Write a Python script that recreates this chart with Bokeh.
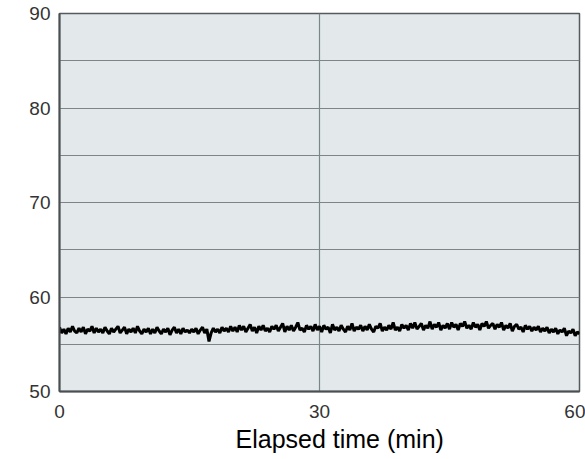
from bokeh.plotting import figure
from bokeh.models import FixedTicker, Range1d, Title
from bokeh.embed import file_html
from bokeh.resources import INLINE

x_ticks = [0, 30, 60]
y_ticks = [50, 60, 70, 80, 90]
y_grid = [50, 55, 60, 65, 70, 75, 80, 85, 90]
x_label = "Elapsed time (min)"

values = [
    56.8, 56.2, 56.6, 56.1, 56.7, 56.3, 56.9, 56.4, 56.2, 56.7, 56.3, 56.8, 56.1, 56.6, 56.4, 56.9, 56.2, 56.7, 56.3, 56.6,
    56.2, 56.8, 56.4, 56.1, 56.7, 56.3, 56.6, 56.9, 56.2, 56.5, 56.8, 56.1, 56.6, 56.3, 56.7, 56.2, 56.9, 56.4, 56.1, 56.6,
    56.3, 56.7, 56.1, 56.6, 56.2, 56.8, 56.4, 56.1, 56.6, 56.3, 56.7, 56.0, 56.5, 56.8, 56.2, 56.6, 56.1, 56.7, 56.3, 56.5,
    56.2, 56.6, 56.3, 56.7, 56.1, 56.5, 56.8, 56.2, 56.6, 55.3, 56.2, 56.7, 56.3, 56.6, 56.2, 56.8, 56.4, 56.7, 56.3, 56.9,
    56.4, 56.8, 56.3, 57.0, 56.5, 56.9, 56.3, 56.7, 57.1, 56.4, 56.8, 56.2, 56.9, 56.5, 57.0, 56.4, 56.7, 56.3, 56.9, 56.6,
    57.0, 56.4, 56.8, 57.2, 56.3, 56.9, 56.5, 57.0, 56.4, 56.8, 57.3, 56.5, 56.7, 56.3, 57.0, 56.6, 56.9, 56.4, 57.1, 56.5,
    56.9, 56.3, 57.0, 56.6, 56.8, 56.2, 57.1, 56.5, 56.8, 56.4, 57.0, 56.6, 56.3, 56.9, 56.5, 57.2, 56.4, 56.8, 56.6, 57.0,
    56.4, 56.9, 56.5, 57.1, 56.6, 56.3, 56.9, 56.7, 57.2, 56.4, 56.8, 56.5, 57.0, 56.6, 57.3, 56.5, 56.8, 56.4, 57.1, 56.7,
    57.0, 56.5, 57.2, 56.7, 57.3, 56.6, 56.9, 57.2, 56.5, 57.0, 56.7, 57.4, 56.6, 57.1, 56.8, 57.3, 56.5, 57.0, 56.7, 57.2,
    56.6, 57.3, 56.8, 57.1, 56.5, 57.2, 56.9, 57.4, 56.7, 57.0, 56.6, 57.3, 56.8, 57.1, 56.5, 57.2, 56.9, 57.4, 56.7, 57.0,
    57.2, 56.6, 57.1, 56.8, 57.3, 56.5, 57.0, 56.7, 57.2, 56.4, 56.9, 57.1, 56.6, 56.8, 56.3, 57.0, 56.6, 56.9, 56.4, 56.8,
    56.5, 56.9, 56.3, 56.7, 56.4, 56.8, 56.2, 56.6, 56.3, 56.7, 56.1, 56.5, 56.3, 56.7, 55.9, 56.4, 56.2, 56.6, 55.9, 56.3,
    56.1,
]
times = [i / 4 for i in range(len(values))]

p = figure(width=585, height=459, output_backend="svg", toolbar_location=None,
           x_range=Range1d(0, 60), y_range=Range1d(50, 90),
           min_border_left=59, min_border_right=6, min_border_top=13, min_border_bottom=68)

p.background_fill_color = "#e3e9ea"
p.border_fill_color = "white"
p.outline_line_color = "#555a5c"
p.outline_line_width = 1.5

p.xaxis.ticker = FixedTicker(ticks=x_ticks)
p.yaxis.ticker = FixedTicker(ticks=y_ticks)
p.xgrid.ticker = FixedTicker(ticks=[30])
p.ygrid.ticker = FixedTicker(ticks=y_grid)
p.grid.grid_line_color = "#7e8587"
p.grid.grid_line_width = 1.2

for ax in (p.xaxis, p.yaxis):
    ax.major_tick_line_color = None
    ax.minor_tick_line_color = None
    ax.major_tick_out = 0
    ax.major_tick_in = 0
    ax.axis_line_color = "#4a4f51"
    ax.axis_line_width = 2
    ax.major_label_text_font = "Liberation Sans"
    ax.major_label_text_font_size = "19px"
    ax.major_label_text_color = "#333333"

p.yaxis.major_label_standoff = 9
p.xaxis.major_label_standoff = 13

p.line(times, values, line_color="black", line_width=3)

t = Title(text=x_label, align="left", offset=176, text_font="Liberation Sans",
          text_font_size="25px", text_font_style="normal", text_color="black", standoff=5)
p.add_layout(t, "below")

open("out.html", "w").write(file_html(p, INLINE))
